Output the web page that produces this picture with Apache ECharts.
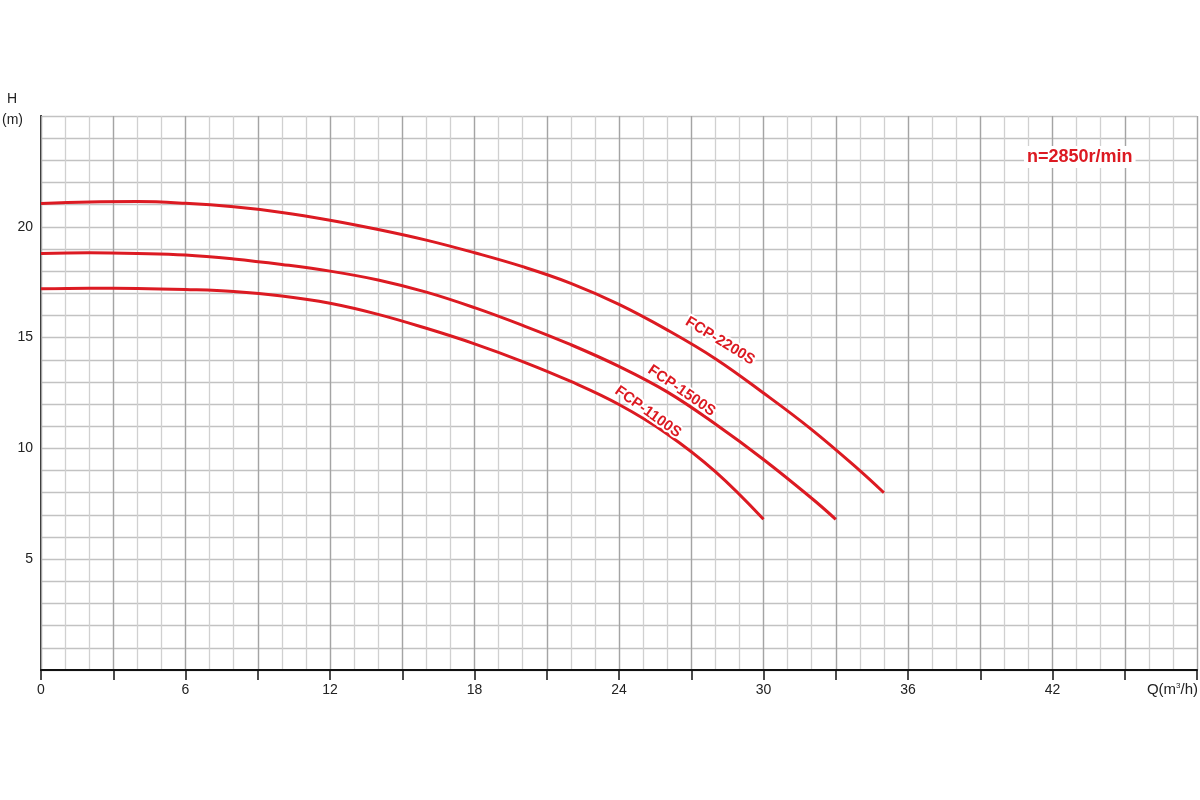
<!DOCTYPE html>
<html>
<head>
<meta charset="utf-8">
<script src="https://cdn.jsdelivr.net/npm/echarts@6/dist/echarts.min.js"></script>
<style>html,body{margin:0;padding:0;background:#fff;}#c{width:1200px;height:800px;}</style>
</head>
<body>
<div id="c"></div>
<script>
// Flow Q (m3/h) and head H (m)
const q2200 = [0, 2, 4, 6, 8, 10, 12, 14, 16, 18, 20, 22, 24, 26, 28, 30, 32, 34, 35];
const h2200 = [21.05, 21.12, 21.14, 21.06, 20.9, 20.65, 20.3, 19.88, 19.4, 18.83, 18.2, 17.45, 16.5, 15.35, 14.05, 12.5, 10.85, 9.0, 8.0];
const q1500 = [0, 2, 4, 6, 8, 10, 12, 14, 16, 18, 20, 22, 24, 26, 28, 30, 32, 33];
const h1500 = [18.8, 18.83, 18.8, 18.73, 18.55, 18.3, 18.0, 17.6, 17.05, 16.35, 15.55, 14.68, 13.7, 12.55, 11.1, 9.5, 7.75, 6.8];
const q1100 = [0, 2, 4, 6, 8, 10, 12, 14, 16, 18, 20, 22, 24, 26, 28, 30];
const h1100 = [17.2, 17.23, 17.22, 17.17, 17.08, 16.88, 16.55, 16.05, 15.42, 14.72, 13.92, 13.02, 11.98, 10.65, 8.95, 6.8];

const seriesNames = ['FCP-2200S', 'FCP-1500S', 'FCP-1100S'];
const labelQ = [28.2, 26.6, 25.2];
const labelH = [14.85, 12.6, 11.65];

const xLabelValues = [0, 6, 12, 18, 24, 30, 36, 42];
const yLabelValues = [5, 10, 15, 20];
const speedText = 'n=2850r/min';

const FONT = '"Liberation Sans", Arial, sans-serif';
const RED = '#dc1a22';

function pairs(q, h) { return q.map((v, i) => [v, h[i]]); }

const chart = echarts.init(document.getElementById('c'));
const option = {
  animation: false,
  backgroundColor: '#fff',
  grid: { left: 41, right: 0, top: 116, bottom: 130, containLabel: false },
  xAxis: [
    {
      type: 'value', min: 0, max: 48, interval: 1, position: 'bottom',
      axisLine: { show: false },
      axisTick: { show: false },
      axisLabel: { show: false },
      splitLine: { show: true, lineStyle: { color: '#d0d0d0', width: 1.3 } },
      z: 1
    },
    {
      type: 'value', min: 0, max: 48, interval: 3, position: 'bottom',
      axisLine: { show: true, onZero: false, lineStyle: { color: '#111', width: 2 } },
      axisTick: { show: true, length: 10, lineStyle: { color: '#111', width: 1.5 } },
      axisLabel: { show: true, fontFamily: FONT, fontSize: 14, color: '#222', margin: 13,
        formatter: v => (xLabelValues.indexOf(v) >= 0 ? String(v) : '') },
      splitLine: { show: true, lineStyle: { color: '#a4a4a4', width: 1.3 } },
      z: 2
    }
  ],
  yAxis: {
    type: 'value', min: 0, max: 25, interval: 1,
    axisLine: { show: true, onZero: false, lineStyle: { color: '#111', width: 2 } },
    axisTick: { show: false },
    axisLabel: { customValues: yLabelValues, fontFamily: FONT, fontSize: 14, color: '#222', margin: 8 },
    splitLine: { show: true, lineStyle: { color: '#c2c2c2', width: 1.3 } }
  },
  series: [
    { name: seriesNames[0], type: 'line', smooth: 0.4, symbol: 'none', data: pairs(q2200, h2200), lineStyle: { color: RED, width: 3 }, z: 5 },
    { name: seriesNames[1], type: 'line', smooth: 0.4, symbol: 'none', data: pairs(q1500, h1500), lineStyle: { color: RED, width: 3 }, z: 5 },
    { name: seriesNames[2], type: 'line', smooth: 0.4, symbol: 'none', data: pairs(q1100, h1100), lineStyle: { color: RED, width: 3 }, z: 5 }
  ]
};
chart.setOption(option);

const graphics = [
  { type: 'text', left: 7, top: 92, style: { text: 'H', font: '14px ' + FONT, fill: '#222' } },
  { type: 'text', left: 2, top: 113, style: { text: '(m)', font: '14px ' + FONT, fill: '#222' } },
  { type: 'text', right: 2, top: 682, style: {
      text: 'Q(m{s|3}/h)', font: '15px ' + FONT, fill: '#222',
      rich: { s: { fontSize: 8, verticalAlign: 'top', fontFamily: FONT, fill: '#222', padding: [0, 0, 6, 0] } } } },
  { type: 'text', left: 1024, top: 146, z: 10, style: {
      text: speedText, font: 'bold 18px ' + FONT, fill: RED, backgroundColor: '#fff', padding: [2, 3] } }
];
const angles = [-0.55, -0.6, -0.62];
seriesNames.forEach((n, i) => {
  const p = chart.convertToPixel({ gridIndex: 0 }, [labelQ[i], labelH[i]]);
  graphics.push({
    type: 'text', x: p[0], y: p[1], rotation: angles[i], z: 10,
    style: { text: n, font: 'bold 15px ' + FONT, fill: RED, align: 'center', verticalAlign: 'middle',
             stroke: '#fff', lineWidth: 4 }
  });
});
chart.setOption({ graphic: graphics });
</script>
</body>
</html>
